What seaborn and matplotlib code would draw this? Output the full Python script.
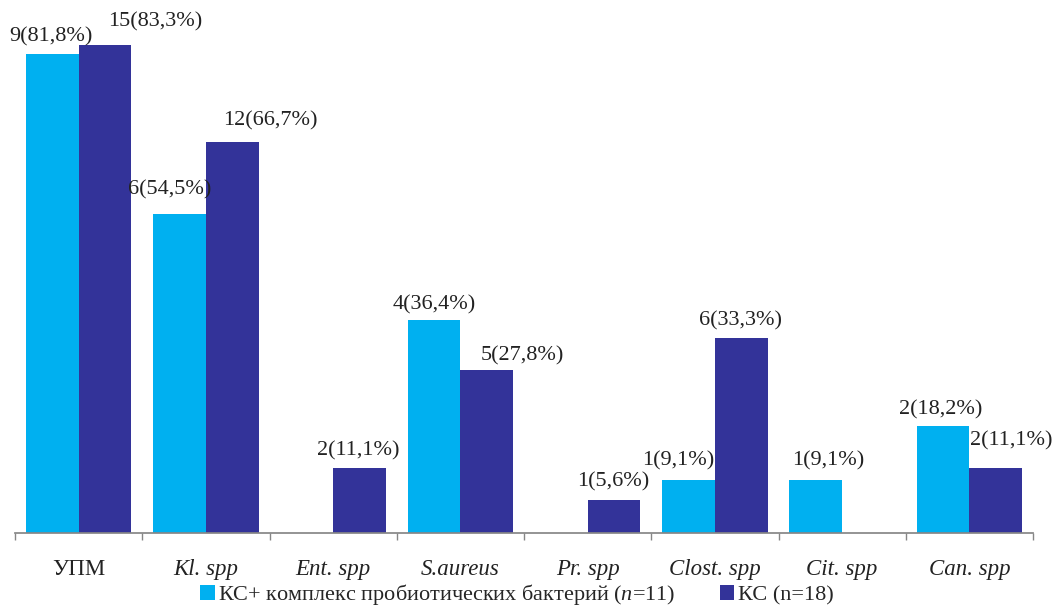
import pandas as pd
import matplotlib
matplotlib.use('Agg')
import matplotlib.pyplot as plt
import seaborn as sns

categories = ['УПМ', 'Kl. spp', 'Ent. spp', 'S.aureus', 'Pr. spp', 'Clost. spp', 'Cit. spp', 'Can. spp']
series_names = ['КС+ комплекс пробиотических бактерий ($n$=11)', 'КС (n=18)']
probiotic_pct = [81.8, 54.5, 0, 36.4, 0, 9.1, 9.1, 18.2]
probiotic_cnt = [9, 6, 0, 4, 0, 1, 1, 2]
control_pct = [83.3, 66.7, 11.1, 27.8, 5.6, 33.3, 0, 11.1]
control_cnt = [15, 12, 2, 5, 1, 6, 0, 2]

# label nudges in pixels (dx, dy above bar top), hand placed like the original
probiotic_nudge = [(-1, 17), (-10, 24), (0, 0), (0, 15), (0, 0), (-10, 19), (13, 19), (-2, 17)]
control_nudge = [(50, 23), (38, 21), (-1, 17), (36, 14), (-1, 18), (-1, 17), (0, 0), (15, 27)]

COLORS = ['#00B0F0', '#333399']

sns.set_theme(style="white")
plt.rcParams['font.family'] = ['Liberation Serif', 'DejaVu Serif']
plt.rcParams['mathtext.fontset'] = 'custom'
plt.rcParams['mathtext.it'] = 'Liberation Serif:italic'
plt.rcParams['mathtext.rm'] = 'Liberation Serif'

df = pd.DataFrame({
    'cat': categories * 2,
    'pct': probiotic_pct + control_pct,
    'cnt': probiotic_cnt + control_cnt,
    'group': [series_names[0]] * len(categories) + [series_names[1]] * len(categories),
})

fig = plt.figure(figsize=(10.55, 6.06), dpi=100)
ax = fig.add_axes([15 / 1055, 1 - 533 / 606, 1018 / 1055, 533 / 606])
sns.barplot(data=df, x='cat', y='pct', hue='group', hue_order=series_names,
            palette=COLORS, saturation=1, width=0.83, linewidth=0, ax=ax, legend=True)

px = 72 / 100  # pixels -> points
for cont, pcts, cnts, nudges in zip(ax.containers, [probiotic_pct, control_pct],
                                    [probiotic_cnt, control_cnt], [probiotic_nudge, control_nudge]):
    for bar, p, c, (dx, dy) in zip(cont, pcts, cnts, nudges):
        if c == 0:
            continue
        ax.annotate(f"{c}({str(p).replace('.', ',')}%)",
                    (bar.get_x() + bar.get_width() / 2, bar.get_height()),
                    xytext=(dx * px, dy * px), textcoords='offset points',
                    ha='center', va='center', fontsize=16, color='#222222')

ax.set_xlim(-0.5, 7.5)
ax.set_ylim(0, 91)
ax.set_xlabel('')
ax.set_ylabel('')
ax.set_yticks([])
for s in ['top', 'right', 'left']:
    ax.spines[s].set_visible(False)
ax.spines['bottom'].set_color('#868686')
ax.set_xticks(range(len(categories)))
ax.set_xticklabels(categories, fontsize=16.5, color='#222222')
for i, t in enumerate(ax.get_xticklabels()):
    if i > 0:
        t.set_fontstyle('italic')
ax.tick_params(axis='x', which='major', length=0, pad=19)
ax.set_xticks([x - 0.5 for x in range(len(categories) + 1)], minor=True)
ax.tick_params(axis='x', which='minor', length=5, color='#868686', direction='out', bottom=True)

handles, lbls = ax.get_legend_handles_labels()
ax.get_legend().remove()
fig.legend(handles, lbls, loc='lower center', bbox_to_anchor=(0.49, -0.035), ncol=2,
           frameon=False, fontsize=16, handlelength=0.65, handleheight=0.65,
           handletextpad=0.15, columnspacing=2.0)

fig.savefig('out.png', dpi=100)
